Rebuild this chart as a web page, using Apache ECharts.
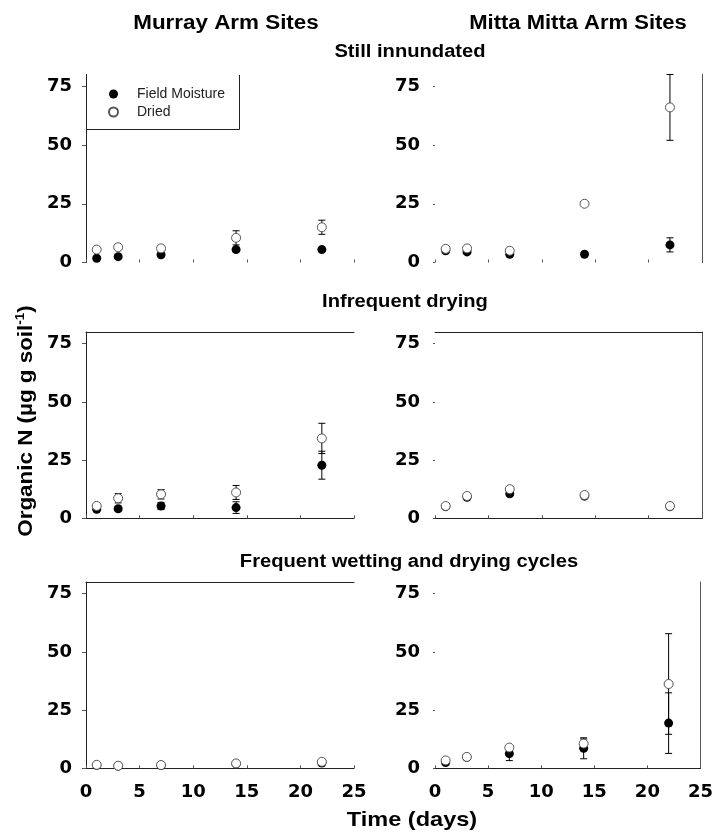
<!DOCTYPE html>
<html><head><meta charset="utf-8">
<script src="https://cdn.jsdelivr.net/npm/echarts@6/dist/echarts.min.js"></script>
<style>html,body{margin:0;padding:0;background:#fff}#c{width:716px;height:837px}</style>
</head><body><div id="c"></div>
<script>
// ---- data ----
const days = [1, 3, 7, 14, 22];
const xTickLabels = ['0', '5', '10', '15', '20', '25'];
const yTickLabels = ['0', '25', '50', '75'];

const murrayStillFM = [1.8, 2.5, 3.3, 5.5, 5.5];
const murrayStillFMErr = [0.5, 0.8, 0.5, 0.8, 0.5];
const murrayStillDried = [5.5, 6.5, 6.0, 10.5, 15.0];
const murrayStillDriedErr = [0.5, 0.8, 0.5, 3.0, 3.0];

const mittaStillFM = [5.0, 4.5, 3.5, 3.5, 7.5];
const mittaStillFMErr = [0.3, 0.5, 0.5, 0.5, 3.0];
const mittaStillDried = [5.8, 6.0, 5.0, 25.0, 66.0];
const mittaStillDriedErr = [0.5, 0.5, 0.5, 0.5, 14.0];

const murrayInfreqFM = [3.9, 4.1, 5.3, 4.6, 22.8];
const murrayInfreqFMErr = [0.5, 0.8, 1.5, 2.5, 6.0];
const murrayInfreqDried = [5.3, 8.6, 10.3, 11.1, 34.3];
const murrayInfreqDriedErr = [0.5, 2.0, 2.0, 3.0, 6.5];

const mittaInfreqFM = [5.0, 9.0, 10.5, 9.5, 5.0];
const mittaInfreqFMErr = [0.3, 0.5, 0.5, 0.5, 0.3];
const mittaInfreqDried = [5.3, 9.6, 12.5, 10.0, 5.3];
const mittaInfreqDriedErr = [0.3, 0.5, 0.8, 0.5, 0.3];

const murrayFreqFM = [1.3, 1.0, 1.2, 1.9, 2.3];
const murrayFreqFMErr = [0.3, 0.3, 0.3, 0.3, 0.3];
const murrayFreqDried = [1.5, 1.1, 1.4, 2.1, 2.8];
const murrayFreqDriedErr = [0.3, 0.3, 0.3, 0.3, 0.5];

const mittaFreqFM = [2.5, 4.7, 6.3, 8.6, 19.4];
const mittaFreqFMErr = [0.5, 0.5, 3.0, 4.5, 13.0];
const mittaFreqDried = [3.4, 4.9, 8.9, 10.6, 36.2];
const mittaFreqDriedErr = [0.5, 0.5, 0.5, 2.0, 21.6];

// ---- layout ----
const FONT = "'Liberation Sans', Arial, Helvetica, sans-serif";
const NUMFONT = "'DejaVu Sans', 'Liberation Sans', Arial, sans-serif";
const LC = '#222';
const panels = [
  { left: 86,  top: 74.5, height: 188,   fm: murrayStillFM, fmE: murrayStillFMErr, dr: murrayStillDried, drE: murrayStillDriedErr, l: 1, b: 0, t: 0, r: 0, xl: false },
  { left: 435, top: 74.5, height: 188,   fm: mittaStillFM, fmE: mittaStillFMErr, dr: mittaStillDried, drE: mittaStillDriedErr, l: 0, b: 0, t: 0, r: 1, xl: false },
  { left: 86,  top: 332,  height: 186.3, fm: murrayInfreqFM, fmE: murrayInfreqFMErr, dr: murrayInfreqDried, drE: murrayInfreqDriedErr, l: 1, b: 1, t: 1, r: 0, xl: false },
  { left: 435, top: 332,  height: 186.3, fm: mittaInfreqFM, fmE: mittaInfreqFMErr, dr: mittaInfreqDried, drE: mittaInfreqDriedErr, l: 0, b: 1, t: 1, r: 1, xl: false },
  { left: 86,  top: 582,  height: 186.3, fm: murrayFreqFM, fmE: murrayFreqFMErr, dr: murrayFreqDried, drE: murrayFreqDriedErr, l: 1, b: 1, t: 1, r: 0, xl: true },
  { left: 435, top: 582,  height: 186.3, fm: mittaFreqFM, fmE: mittaFreqFMErr, dr: mittaFreqDried, drE: mittaFreqDriedErr, l: 0, b: 1, t: 0, r: 1, xl: true }
];

function errRender(params, api) {
  const x = api.value(0), y = api.value(1), e = api.value(2);
  const hi = api.coord([x, y + e]), lo = api.coord([x, y - e]);
  const w = 3.5;
  const st = { stroke: '#000', lineWidth: 1 };
  return { type: 'group', children: [
    { type: 'line', shape: { x1: hi[0], y1: hi[1], x2: lo[0], y2: lo[1] }, style: st },
    { type: 'line', shape: { x1: hi[0] - w, y1: hi[1], x2: hi[0] + w, y2: hi[1] }, style: st },
    { type: 'line', shape: { x1: lo[0] - w, y1: lo[1], x2: lo[0] + w, y2: lo[1] }, style: st }
  ]};
}

const grid = [], xAxis = [], yAxis = [], series = [];
panels.forEach((p, i) => {
  const isLeft = p.left < 200;
  grid.push({ left: p.left, top: p.top, width: isLeft ? 268 : 267, height: p.height });
  xAxis.push({
    type: 'value', gridIndex: i, min: 0, max: 25, interval: 5, position: 'bottom',
    axisLine: { show: !!p.b, onZero: false, lineStyle: { color: LC, width: 1 } },
    axisTick: { show: true, inside: true, length: 3, lineStyle: { color: '#555' } },
    splitLine: { show: false },
    axisLabel: { show: p.xl, margin: 15, color: '#000', fontWeight: 'bold', fontSize: 18, fontFamily: NUMFONT,
      formatter: v => xTickLabels[Math.round(v / 5)] }
  });
  xAxis.push({
    type: 'value', gridIndex: i, min: 0, max: 25, position: 'top',
    axisLine: { show: !!p.t, onZero: false, lineStyle: { color: LC, width: 1 } },
    axisTick: { show: false }, axisLabel: { show: false }, splitLine: { show: false }
  });
  yAxis.push({
    type: 'value', gridIndex: i, min: 0, max: 80, interval: 25, position: 'left',
    axisLine: { show: !!p.l, onZero: false, lineStyle: { color: LC, width: 1 } },
    axisTick: { show: true, inside: false, length: p.l ? 4 : 2, lineStyle: { color: '#555' } },
    splitLine: { show: false },
    axisLabel: { show: true, showMaxLabel: false, margin: isLeft ? 14 : 15, color: '#000', fontWeight: 'bold', fontSize: 18, fontFamily: NUMFONT,
      formatter: v => (v % 25 === 0 ? yTickLabels[v / 25] : '') }
  });
  yAxis.push({
    type: 'value', gridIndex: i, min: 0, max: 80, position: 'right',
    axisLine: { show: !!p.r, onZero: false, lineStyle: { color: '#555', width: 1 } },
    axisTick: { show: false }, axisLabel: { show: false }, splitLine: { show: false }
  });
  const xi = 2 * i, yi = 2 * i;
  series.push({
    type: 'custom', xAxisIndex: xi, yAxisIndex: yi, z: 1, renderItem: errRender, silent: true,
    encode: { x: 0, y: 1 },
    data: days.map((d, k) => [d, p.fm[k], p.fmE[k]])
  });
  series.push({
    type: 'custom', xAxisIndex: xi, yAxisIndex: yi, z: 1, renderItem: errRender, silent: true,
    encode: { x: 0, y: 1 },
    data: days.map((d, k) => [d, p.dr[k], p.drE[k]])
  });
  series.push({
    name: 'Field Moisture', type: 'scatter', xAxisIndex: xi, yAxisIndex: yi, z: 3,
    symbol: 'circle', symbolSize: 9,
    itemStyle: { color: '#000', opacity: 1 },
    data: days.map((d, k) => [d, p.fm[k]])
  });
  series.push({
    name: 'Dried', type: 'scatter', xAxisIndex: xi, yAxisIndex: yi, z: 4,
    symbol: 'circle', symbolSize: 9,
    itemStyle: { color: '#fff', borderColor: '#555', borderWidth: 1, opacity: 1 },
    data: days.map((d, k) => [d, p.dr[k]])
  });
});

function txt(s, x, y, size, sx, extra) {
  return Object.assign({ type: 'text', x: x, y: y, scaleX: sx,
    style: { text: s, font: 'bold ' + size + 'px ' + FONT, fill: '#000', align: 'center', verticalAlign: 'middle' } }, extra || {});
}

const option = {
  backgroundColor: '#fff',
  animation: false,
  grid, xAxis, yAxis, series,
  legend: {
    orient: 'vertical', left: 103, top: 82, itemGap: 4,
    itemWidth: 9, itemHeight: 9,
    data: ['Field Moisture', 'Dried'],
    textStyle: { fontSize: 14, fontFamily: FONT, color: '#222', padding: [0, 0, 0, 14] }
  },
  graphic: [
    { type: 'polyline', shape: { points: [[239.5, 75], [239.5, 129.5], [86, 129.5]] }, style: { stroke: LC, lineWidth: 1, fill: null } },
    txt('Murray Arm Sites', 226, 23, 20, 1.12),
    txt('Mitta Mitta Arm Sites', 578, 23, 20, 1.1),
    txt('Still innundated', 410, 52, 18, 1.12),
    txt('Infrequent drying', 405, 302, 18, 1.12),
    txt('Frequent wetting and drying cycles', 409, 562, 18, 1.12),
    txt('Time (days)', 412, 820, 21, 1.12),
    { type: 'text', x: 26, y: 421, rotation: Math.PI / 2, scaleX: 1.12,
      style: { text: 'Organic N (µg g soil{sup|-1})', font: 'bold 20px ' + FONT, fill: '#000', align: 'center', verticalAlign: 'middle',
        rich: { sup: { fontSize: 12, fontWeight: 'bold', fontFamily: FONT, verticalAlign: 'top', padding: [0, 0, 10, 0] } } } }
  ]
};

const chart = echarts.init(document.getElementById('c'), null, { renderer: 'canvas' });
chart.setOption(option);
</script></body></html>
